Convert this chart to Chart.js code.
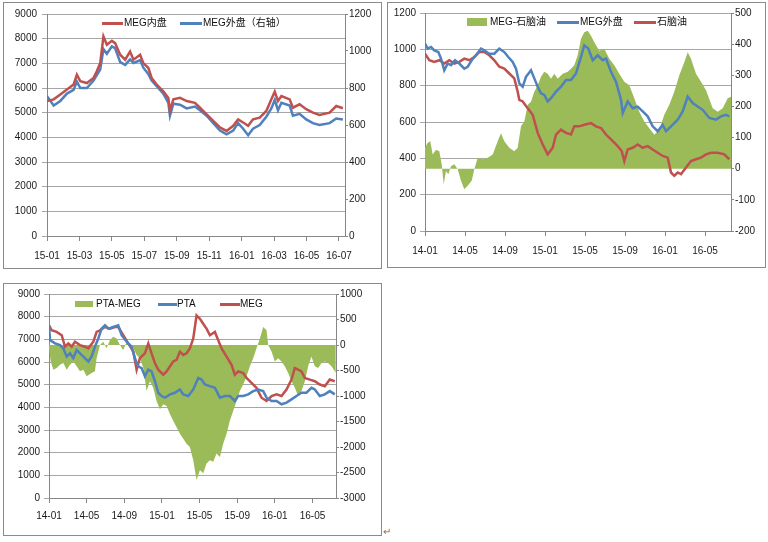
<!DOCTYPE html>
<html>
<head>
<meta charset="utf-8">
<script src="https://cdn.jsdelivr.net/npm/chart.js@4.4.1/dist/chart.umd.min.js"></script>
<style>
  body { margin: 0; background: #fff; width: 768px; height: 542px; position: relative; overflow: hidden;
         font-family: "Liberation Sans", "Noto Sans CJK SC", sans-serif; }
  .panel { position: absolute; border: 1px solid #8a8a8a; box-sizing: border-box; }
  .panel canvas { position: absolute; left: 0; top: 0; }
  .lg-text { position: absolute; font-size: 10px; line-height: 12px; color: #111; white-space: nowrap; }
  .lg-line { position: absolute; height: 3px; }
  .lg-box { position: absolute; background: #9bbb59; }
</style>
</head>
<body>

<div class="panel" style="left:3px;top:2px;width:379px;height:267px"><canvas id="c1" width="377" height="265"></canvas></div>
<div class="panel" style="left:387px;top:2px;width:379px;height:266px"><canvas id="c2" width="377" height="264"></canvas></div>
<div class="panel" style="left:3px;top:283px;width:379px;height:253px"><canvas id="c3" width="377" height="251"></canvas></div>

<!-- legends -->
<div class="lg-line" style="left:102px;top:22px;width:21px;background:#c0504d"></div>
<div class="lg-text" style="left:124px;top:17px">MEG内盘</div>
<div class="lg-line" style="left:180px;top:22px;width:22px;background:#4f81bd"></div>
<div class="lg-text" style="left:203px;top:17px">MEG外盘（右轴）</div>

<div class="lg-box" style="left:467px;top:18px;width:20px;height:8px"></div>
<div class="lg-text" style="left:490px;top:16px">MEG-石脑油</div>
<div class="lg-line" style="left:557px;top:21px;width:22px;background:#4f81bd"></div>
<div class="lg-text" style="left:580px;top:16px">MEG外盘</div>
<div class="lg-line" style="left:634px;top:21px;width:22px;background:#c0504d"></div>
<div class="lg-text" style="left:657px;top:16px">石脑油</div>

<div class="lg-box" style="left:75px;top:301px;width:18px;height:6px"></div>
<div class="lg-text" style="left:96px;top:298px">PTA-MEG</div>
<div class="lg-line" style="left:158px;top:303px;width:19px;background:#4f81bd"></div>
<div class="lg-text" style="left:177px;top:298px">PTA</div>
<div class="lg-line" style="left:220px;top:303px;width:20px;background:#c0504d"></div>
<div class="lg-text" style="left:240px;top:298px">MEG</div>

<div class="lg-text" style="left:383px;top:526px;color:#777">↵</div>

<script>
// chart 1: months since 2015-01
const p1Months = [0, 0.41, 0.82, 1.23, 1.64, 1.84, 2.05, 2.46, 2.87, 3.07, 3.28, 3.48, 3.69, 4.00, 4.20, 4.51, 4.82, 5.12, 5.33, 5.74,
  5.94, 6.25, 6.45, 6.76, 7.17, 7.48, 7.58, 7.79, 8.20, 8.61, 9.12, 9.43, 9.84, 10.25, 10.66, 11.07, 11.48, 11.78, 12.09, 12.40,
  12.70, 13.11, 13.52, 13.83, 14.04, 14.24, 14.45, 14.96, 15.16, 15.57, 15.98, 16.39, 16.80, 17.42, 17.83, 18.24];
const megDomestic = [5470, 5540, 5740, 5940, 6140, 6540, 6280, 6200, 6410, 6680, 7010, 8090, 7750, 7910, 7820, 7350, 7150, 7480, 7150, 7350,
  7010, 6810, 6410, 6140, 5870, 5600, 5070, 5540, 5600, 5470, 5400, 5200, 4930, 4670, 4400, 4260, 4470, 4730, 4600, 4470,
  4730, 4800, 5070, 5540, 5850, 5470, 5670, 5540, 5200, 5340, 5140, 5000, 4910, 5000, 5270, 5180];
const megOverseas = [756, 705, 730, 770, 790, 835, 800, 800, 840, 870, 900, 1010, 985, 1025, 1015, 940, 925, 955, 935, 950,
  910, 875, 840, 810, 770, 720, 650, 715, 710, 690, 700, 680, 650, 610, 570, 550, 570, 610, 580, 545,
  580, 600, 645, 690, 735, 680, 720, 705, 650, 660, 630, 610, 600, 610, 635, 630];

// chart 2: months since 2014-01
const spreadMonths = [0, 0.27, 0.53, 0.77, 1.1, 1.43, 1.67, 1.87, 2.1, 2.33, 2.6, 2.93, 3.27, 3.6, 3.93, 4.27, 4.67, 4.93, 5.27, 5.77,
  6.27, 6.77, 7.27, 7.6, 7.93, 8.43, 8.93, 9.27, 9.6, 9.93, 10.27, 10.6, 10.93, 11.27, 11.6, 11.93, 12.27, 12.6, 12.93, 13.27,
  13.77, 14.27, 14.6, 14.93, 15.27, 15.6, 15.93, 16.27, 16.6, 16.93, 17.43, 17.93, 18.43, 18.93, 19.43, 19.93, 20.43, 20.93, 21.43, 21.93,
  22.43, 22.93, 23.43, 23.93, 24.43, 24.93, 25.43, 25.93, 26.27, 26.6, 27.1, 27.6, 28.1, 28.77, 29.27, 29.77, 30.27, 30.6];
const megNaphthaSpread = [67, 83, 88, 46, 61, 56, 14, -50, -7, -18, 8, 14, -2, -39, -66, -55, -39, -2, 35, 30,
  35, 46, 88, 114, 88, 67, 56, 67, 136, 152, 205, 215, 247, 268, 295, 311, 305, 289, 305, 289,
  305, 311, 321, 332, 364, 417, 438, 443, 427, 406, 379, 385, 353, 332, 305, 279, 268, 226, 183, 152,
  130, 109, 125, 173, 205, 247, 300, 342, 374, 353, 305, 279, 252, 194, 183, 194, 226, 231];
const overseasMonths = [0, 0.27, 0.6, 0.93, 1.33, 1.6, 1.93, 2.27, 2.6, 3, 3.43, 3.93, 4.27, 4.67, 5.1, 5.6, 5.93, 6.43, 6.93, 7.43,
  7.93, 8.33, 8.77, 9.1, 9.43, 9.77, 10.1, 10.6, 10.93, 11.27, 11.6, 11.93, 12.27, 12.6, 13.1, 13.6, 14.1, 14.6, 15.1, 15.6,
  15.93, 16.33, 16.77, 17.27, 17.77, 18.1, 18.6, 19.1, 19.6, 19.77, 20.27, 20.77, 21.27, 21.77, 22.27, 22.77, 23.27, 23.77, 24.1, 24.6,
  25.27, 25.77, 26.27, 26.77, 27.27, 27.77, 28.43, 29.1, 29.6, 30.1, 30.43];
const megOverseas2 = [1031, 1004, 1013, 994, 985, 949, 885, 922, 913, 940, 922, 894, 904, 940, 967, 1004, 994, 976, 976, 1004,
  985, 958, 931, 894, 813, 794, 849, 885, 840, 794, 758, 749, 713, 731, 767, 794, 831, 831, 867, 958,
  1022, 1004, 940, 967, 940, 949, 876, 822, 722, 649, 713, 676, 685, 658, 631, 576, 549, 585, 549, 576,
  613, 658, 740, 704, 685, 667, 622, 613, 631, 640, 631];
const naphthaMonths = [0, 0.43, 0.93, 1.43, 1.93, 2.43, 2.93, 3.43, 3.93, 4.43, 4.93, 5.43, 5.93, 6.43, 6.93, 7.43, 7.93, 8.43, 8.93, 9.27,
  9.43, 9.77, 10.27, 10.77, 11.27, 11.77, 12.27, 12.77, 13.1, 13.6, 14.1, 14.6, 14.93, 15.43, 15.93, 16.6, 17.1, 17.6, 18.1, 18.6,
  19.27, 19.67, 19.93, 20.27, 20.77, 21.27, 21.77, 22.27, 22.77, 23.27, 23.77, 24.27, 24.6, 24.93, 25.27, 25.6, 26.1, 26.6, 27.1, 27.6,
  28.1, 28.6, 29.27, 29.93, 30.43];
const naphtha = [976, 940, 931, 940, 922, 940, 922, 931, 949, 940, 958, 985, 985, 967, 940, 904, 894, 867, 840, 767,
  722, 713, 676, 640, 540, 476, 422, 458, 531, 558, 540, 531, 576, 576, 585, 594, 576, 567, 531, 504,
  467, 440, 385, 449, 458, 476, 458, 467, 449, 431, 413, 404, 322, 304, 322, 313, 349, 385, 395, 404,
  422, 431, 431, 422, 395];

// chart 3: months since 2014-01
const ptaSpreadMonths = [0, 0.18, 0.46, 0.81, 1.17, 1.52, 1.88, 2.23, 2.58, 2.94, 3.29, 3.65, 4, 4.53, 4.88, 5.06, 5.42, 5.77, 6.12, 6.48,
  6.83, 7.19, 7.54, 7.89, 8.25, 8.6, 8.96, 9.31, 9.66, 10.02, 10.37, 10.73, 11.08, 11.43, 11.79, 12.14, 12.5, 12.85, 13.2, 13.56,
  13.91, 14.27, 14.62, 14.97, 15.33, 15.68, 16.04, 16.39, 16.74, 17.1, 17.45, 17.81, 18.16, 18.51, 18.87, 19.22, 19.58, 19.93, 20.28, 20.64,
  20.99, 21.35, 21.7, 22.05, 22.41, 22.76, 23.12, 23.29, 23.65, 24, 24.35, 24.71, 25.06, 25.42, 25.77, 26.12, 26.48, 26.83, 27.19, 27.54,
  27.89, 28.25, 28.6, 28.96, 29.31, 29.66, 30.02, 30.48];
const ptaMegSpread = [-65, -323, -484, -452, -387, -355, -484, -387, -323, -419, -516, -484, -613, -548, -516, -258, 0, 65, -65, 97,
  161, 129, 0, -97, 65, 32, -65, -194, -258, -452, -903, -710, -839, -1097, -1258, -1161, -1194, -1355, -1484, -1613,
  -1742, -1839, -1935, -2000, -2258, -2645, -2452, -2516, -2323, -2258, -2290, -2129, -2194, -1935, -1742, -1484, -1290, -1097, -903, -774,
  -613, -419, -258, -65, 129, 355, 290, 0, -129, -323, -258, -323, -419, -548, -710, -839, -1000, -903, -710, -419,
  -226, -419, -452, -355, -323, -355, -419, -548];
const ptaMonths = [0, 0.11, 0.64, 1.17, 1.52, 1.88, 2.23, 2.58, 2.94, 3.29, 3.65, 4.18, 4.53, 4.88, 5.24, 5.59, 5.95, 6.3, 6.83, 7.36,
  7.72, 8.25, 8.78, 9.13, 9.49, 9.84, 10.19, 10.55, 10.9, 11.26, 11.61, 11.96, 12.32, 12.85, 13.38, 13.91, 14.27, 14.8, 15.33, 15.86,
  16.21, 16.57, 17.1, 17.63, 18.16, 18.69, 19.22, 19.75, 20.11, 20.64, 21.17, 21.7, 22.23, 22.76, 23.12, 23.65, 24.18, 24.71, 25.24, 25.77,
  26.3, 26.83, 27.36, 27.89, 28.25, 28.78, 29.31, 29.84, 30.37];
const pta = [7618, 6965, 6820, 6747, 6602, 6240, 6384, 6167, 6530, 6384, 6240, 6022, 6240, 6675, 7037, 7473, 7618, 7473, 7545, 7618,
  7182, 6892, 6675, 6167, 5804, 5731, 5369, 5659, 5586, 5151, 4643, 4498, 4426, 4571, 4643, 4788, 4571, 4498, 4788, 5296,
  5224, 5006, 4934, 4861, 4426, 4498, 4498, 4280, 4498, 4498, 4571, 4716, 4788, 4716, 4426, 4280, 4280, 4135, 4208, 4353,
  4498, 4643, 4643, 4861, 4788, 4498, 4571, 4716, 4571];
const megMonths = [0, 0.28, 0.81, 1.35, 1.7, 2.05, 2.41, 2.76, 3.29, 3.82, 4.18, 4.71, 5.06, 5.42, 5.95, 6.48, 7.01, 7.36, 7.89, 8.42,
  8.96, 9.31, 9.66, 10.19, 10.55, 10.9, 11.26, 11.61, 12.14, 12.5, 12.85, 13.2, 13.56, 13.91, 14.27, 14.62, 14.97, 15.33, 15.68, 16.04,
  16.39, 16.74, 17.1, 17.63, 17.98, 18.34, 18.87, 19.4, 19.75, 20.11, 20.64, 20.99, 21.52, 22.05, 22.58, 23.12, 23.65, 24.18, 24.71, 25.24,
  25.77, 26.12, 26.48, 26.83, 27.19, 27.72, 28.25, 28.78, 29.31, 29.84, 30.37];
const meg = [7618, 7400, 7327, 7182, 6675, 6820, 6675, 6892, 6747, 6675, 6602, 6892, 7327, 7400, 7545, 7473, 7545, 7545, 7182, 6820,
  6457, 5659, 6167, 6384, 6820, 6384, 5949, 5659, 5441, 5586, 5804, 6022, 6095, 6457, 6312, 6384, 6602, 7037, 8053, 7908,
  7690, 7473, 7182, 7327, 6965, 6602, 6240, 5877, 5441, 5586, 5514, 5296, 5079, 4861, 4426, 4280, 4498, 4571, 4498, 4788,
  5224, 5731, 5659, 5586, 5296, 5224, 5151, 5006, 4934, 5224, 5151];

const RED = '#c0504d', BLUE = '#4f81bd', GREEN = '#9bbb59';
const AXIS = '#868686', GRID = '#a6a6a6';

Chart.defaults.font.family = '"Liberation Sans", "Noto Sans CJK SC", sans-serif';
Chart.defaults.font.size = 10;
Chart.defaults.color = '#1a1a1a';

function pts(xs, ys) {
  return xs.map((x, i) => ({ x: x, y: ys[i] }));
}

function monthLabel(startYear) {
  return function(v) {
    const m = Math.round(v);
    const yy = startYear + Math.floor(m / 12);
    const mm = m % 12 + 1;
    return String(yy) + '-' + (mm < 10 ? '0' + mm : mm);
  };
}

const plain = v => String(v);

function line(label, data, color, axis) {
  return { label: label, data: data, yAxisID: axis, borderColor: color, borderWidth: 2.5,
           pointRadius: 0, tension: 0, fill: false, order: 0 };
}

function area(label, data, axis) {
  return { label: label, data: data, yAxisID: axis, borderWidth: 0, borderColor: GREEN,
           backgroundColor: GREEN, pointRadius: 0, tension: 0, fill: { value: 0 }, order: 5 };
}

function makeChart(id, datasets, o) {
  new Chart(document.getElementById(id), {
    type: 'line',
    data: { datasets: datasets },
    options: {
      responsive: false,
      animation: false,
      layout: { padding: { top: o.top, left: 0, right: 0, bottom: 0 } },
      plugins: { legend: { display: false }, tooltip: { enabled: false } },
      scales: {
        x: {
          type: 'linear', min: 0, max: o.xMax,
          afterFit: s => { s.height = o.bottom; },
          border: { color: AXIS },
          grid: { drawOnChartArea: false, tickLength: 5, color: AXIS },
          ticks: { stepSize: o.xStep, includeBounds: false, autoSkip: false, maxRotation: 0,
                   padding: o.xPad, callback: monthLabel(o.year) }
        },
        y: {
          position: 'left', min: o.yMin, max: o.yMax,
          afterFit: s => { s.width = o.left; },
          border: { color: AXIS },
          grid: { color: GRID, tickLength: 5 },
          ticks: { stepSize: o.yStep, padding: o.yPad, callback: plain }
        },
        y1: {
          position: 'right', min: o.y1Min, max: o.y1Max,
          afterFit: s => { s.width = o.right; },
          border: { color: AXIS },
          grid: { drawOnChartArea: false, tickLength: 3, color: AXIS },
          ticks: { stepSize: o.y1Step, padding: 1, callback: plain }
        }
      }
    }
  });
}

makeChart('c1', [
  line('MEG内盘', pts(p1Months, megDomestic), RED, 'y'),
  line('MEG外盘（右轴）', pts(p1Months, megOverseas), BLUE, 'y1')
], { top: 9, bottom: 32, left: 43, right: 36, xMax: 18.37, xStep: 2, year: 15, xPad: 9,
     yMin: 0, yMax: 9000, yStep: 1000, yPad: 5, y1Min: 0, y1Max: 1200, y1Step: 200 });

makeChart('c2', [
  line('MEG外盘', pts(overseasMonths, megOverseas2), BLUE, 'y'),
  line('石脑油', pts(naphthaMonths, naphtha), RED, 'y'),
  area('MEG-石脑油', pts(spreadMonths, megNaphthaSpread), 'y1')
], { top: 8, bottom: 36, left: 37, right: 34, xMax: 30.6, xStep: 4, year: 14, xPad: 9,
     yMin: 0, yMax: 1200, yStep: 200, yPad: 4, y1Min: -200, y1Max: 500, y1Step: 100 });

makeChart('c3', [
  line('PTA', pts(ptaMonths, pta), BLUE, 'y'),
  line('MEG', pts(megMonths, meg), RED, 'y'),
  area('PTA-MEG', pts(ptaSpreadMonths, ptaMegSpread), 'y1')
], { top: 8, bottom: 37, left: 45, right: 45, xMax: 30.5, xStep: 4, year: 14, xPad: 7,
     yMin: 0, yMax: 9000, yStep: 1000, yPad: 4, y1Min: -3000, y1Max: 1000, y1Step: 500 });
</script>
</body>
</html>
